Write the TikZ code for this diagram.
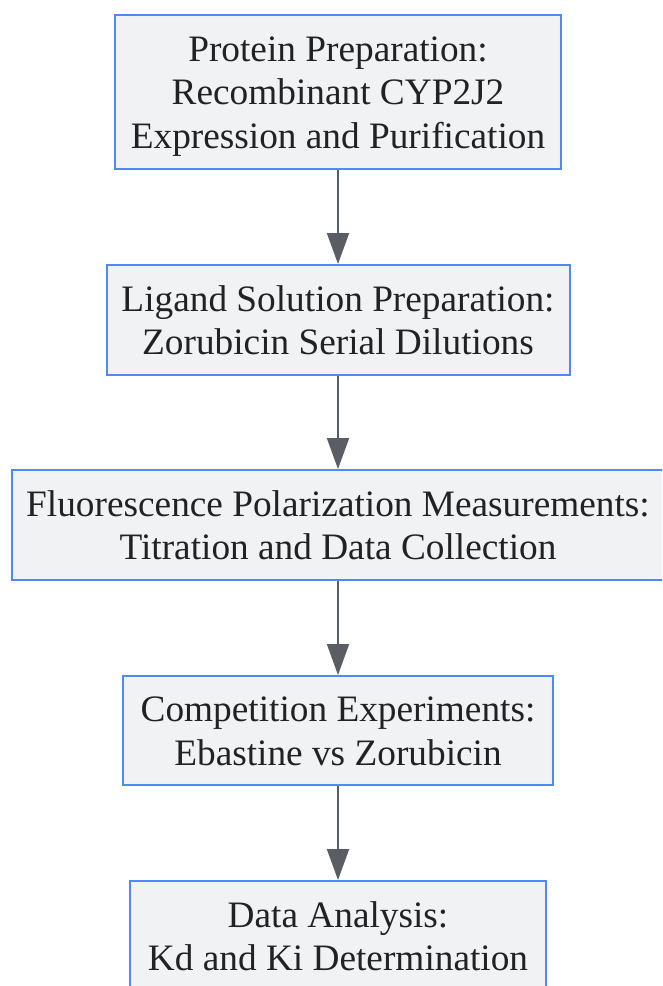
\documentclass[tikz,border=0pt]{standalone}
\usepackage{fontspec}
\setmainfont{Liberation Serif}
\usetikzlibrary{arrows.meta}
\definecolor{boxblue}{RGB}{78,137,245}
\definecolor{boxfill}{RGB}{241,242,244}
\definecolor{arrowgray}{RGB}{90,93,99}
\definecolor{textcol}{RGB}{34,34,34}
\newcommand{\lnstrut}{\rule[-7pt]{0pt}{40pt}}
\begin{document}
\begin{tikzpicture}[x=1pt,y=-1pt,
  stepbox/.style={draw=boxblue, line width=2pt, fill=boxfill, inner sep=0pt,
    align=center, font=\fontsize{37.3}{43.5}\selectfont, text=textcol},
  flow/.style={draw=arrowgray, line width=2pt, -{Triangle[length=31pt,width=22pt]}}]
\useasboundingbox (0,0) rectangle (662,986);
\clip (0,0) rectangle (662,986);
\node[stepbox, minimum width=446pt, minimum height=154pt] (p1) at (338,92)
  {\lnstrut Protein Preparation:\\\lnstrut Recombinant CYP2J2\\\lnstrut Expression and Purification};
\node[stepbox, minimum width=463pt, minimum height=110pt] (p2) at (338,320)
  {\lnstrut Ligand Solution Preparation:\\\lnstrut Zorubicin Serial Dilutions};
\node[stepbox, minimum width=652pt, minimum height=110pt] (p3) at (338,525)
  {\lnstrut Fluorescence Polarization Measurements:\\\lnstrut Titration and Data Collection};
\node[stepbox, minimum width=430pt, minimum height=109pt] (p4) at (338,730.5)
  {\lnstrut Competition Experiments:\\\lnstrut Ebastine vs Zorubicin};
\node[stepbox, minimum width=416pt, minimum height=110pt] (p5) at (338,936)
  {\lnstrut Data Analysis:\\\lnstrut Kd and Ki Determination};
\draw[flow] (p1) -- (p2);
\draw[flow] (p2) -- (p3);
\draw[flow] (p3) -- (p4);
\draw[flow] (p4) -- (p5);
\end{tikzpicture}
\end{document}
